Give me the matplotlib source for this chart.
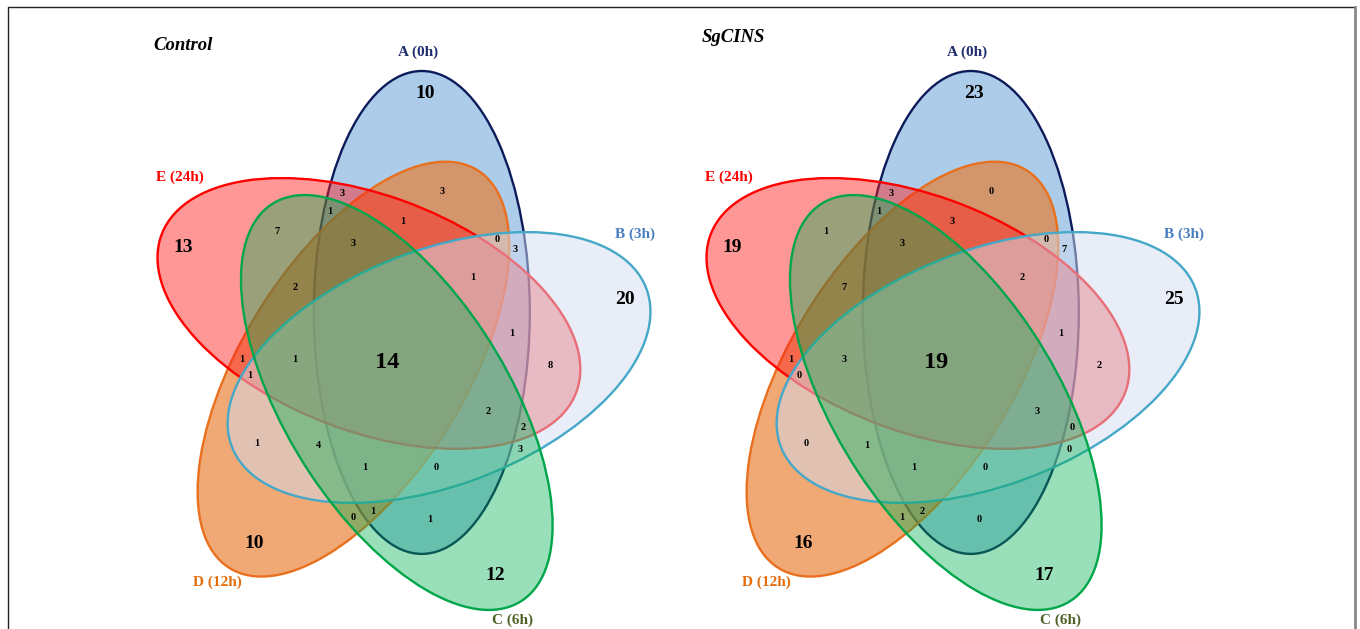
import numpy as np
import matplotlib.pyplot as plt
from matplotlib.patches import Ellipse

# set names and colours (draw order matters for the blends)
sets = ['A (0h)', 'B (3h)', 'C (6h)', 'D (12h)', 'E (24h)']
fill_colors = ['#5B9BD5', '#D3DDF0', '#00B050', '#E97A2A', '#FF1A1A']
fill_alpha = [0.5, 0.5, 0.4, 0.65, 0.45]
edge_colors = ['#0E1B5A', '#45A8C8', '#00A64A', '#E8701E', '#FF0000']
label_colors = ['#1F2E6E', '#4A7EC2', '#4F6228', '#E46C0A', '#FF0000']
draw_order = [0, 3, 4, 1, 2]

panels = ['Control', 'SgCINS']

# region counts, same region order for both panels
control_counts = [10, 3, 1, 3, 1, 7, 13, 3, 0, 3, 1, 2, 1, 1, 1, 14,
                  8, 1, 2, 2, 1, 4, 3, 1, 0, 0, 1, 1, 10, 12, 20]
sgcins_counts = [23, 3, 1, 0, 3, 1, 19, 3, 0, 7, 2, 7, 1, 1, 3, 19,
                 2, 0, 3, 0, 0, 1, 0, 1, 0, 1, 2, 0, 16, 17, 25]

# layout (pixel positions inside the left panel)
region_pos = [(425, 93), (342, 194), (330, 212), (442, 192), (403, 221),
              (277, 231), (183, 248), (353, 243), (497, 240), (515, 250),
              (473, 277), (295, 288), (512, 333), (242, 359), (295, 359),
              (387, 362), (550, 365), (250, 375), (488, 411), (523, 428),
              (257, 443), (318, 446), (520, 449), (365, 468), (436, 468),
              (353, 517), (373, 511), (430, 520), (254, 544), (495, 576),
              (625, 299)]
big = {0, 6, 28, 29, 30}
set_label_pos = [(418, 52), (635, 234), (512, 620), (217, 582), (180, 177)]
title_pos = [(183, 45), (733, 38)]
panel_shift = [0, 549]

W, H = 1360, 629
S = 1.1  # the picture is stretched vertically


def px(x, y):
    return x, (H - y) / S


fig = plt.figure(figsize=(13.6, 6.29), dpi=100)
ax = fig.add_axes([0, 0, 1, 1])
ax.set_xlim(0, W)
ax.set_ylim(0, H / S)
ax.axis('off')

serif = 'Liberation Serif'

for p, counts in enumerate([control_counts, sgcins_counts]):
    dx = panel_shift[p]
    cx, cy = px(396 + dx, 353)
    for k in draw_order:
        theta = 90 - 72 * k
        phi = np.radians(55 - 72 * k)
        c = (cx + 45 * np.cos(phi), cy + 45 * np.sin(phi))
        fc = plt.matplotlib.colors.to_rgba(fill_colors[k], fill_alpha[k])
        ax.add_patch(Ellipse(c, 439, 216, angle=theta, facecolor=fc,
                             edgecolor=edge_colors[k], lw=1.7))
    for i, (x, y) in enumerate(region_pos):
        if i == 15:
            fs = 17.5
        elif i in big:
            fs = 14
        else:
            fs = 7.5
        ax.text(*px(x + dx, y), str(counts[i]), ha='center', va='center',
                fontsize=fs, fontweight='bold', family=serif, color='black')
    for k, (x, y) in enumerate(set_label_pos):
        ax.text(*px(x + dx, y), sets[k], ha='center', va='center',
                fontsize=11, fontweight='bold', family=serif,
                color=label_colors[k])
    tx, ty = title_pos[p]
    ax.text(*px(tx, ty), panels[p], ha='center', va='center', fontsize=13.5,
            fontweight='bold', style='italic', family=serif, color='black')

# frame
ax.plot(*zip(px(8, H), px(8, 7), px(1355, 7)), color='#222222', lw=1)
ax.plot(*zip(px(1355, 7), px(1355, H)), color='#888888', lw=2)

fig.savefig('out.png', dpi=100)
